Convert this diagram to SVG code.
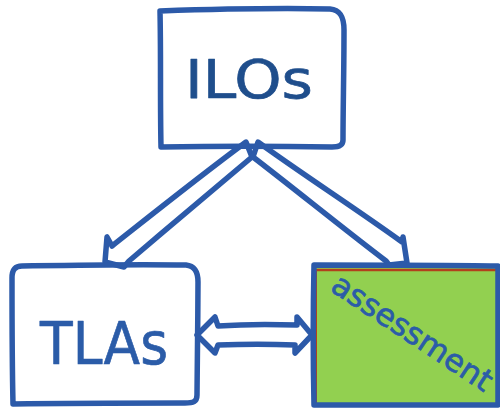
<svg xmlns="http://www.w3.org/2000/svg" width="500" height="409" viewBox="0 0 500 409">
<style>
.ln{fill:none;stroke:#2c5aa9;stroke-width:5.5;stroke-linecap:round;stroke-linejoin:round}
.ar{fill:#ffffff;stroke:#2c5aa9;stroke-width:5.5;stroke-linecap:round;stroke-linejoin:round}
.lbl{font-family:"DejaVu Sans","Noto Sans",sans-serif;fill:#2b5ca8;stroke:#2b5ca8;stroke-width:0.7;stroke-linejoin:round}
</style>
<rect width="500" height="409" fill="#ffffff"/>
<g id="connectors">
<path class="ar" d="M246,142 C200,176 155,212 112,246 L107,237 L105,262 L124,267 L129,261 C170,226 212,191 252,157 Z"/>
<path class="ar" d="M258,142 C305,176 355,208 402,242 L403,237 L407,263 L389,265 L386,261 C340,226 296,190 253,157 Z"/>
<path class="ar" d="M197,335 L215,317 L218,326 C245,324 270,324 297,325 L297,317 L312,335 L295,353 L295,345 C270,344 245,344 218,345 L215,353 Z"/>
</g>
<g id="node-ilos">
<path class="ln" d="M161,147 C160,100 161,55 160,11 C220,9 280,8 330,9 C341,10 344,18 344,30 C344,70 343,110 343,140 C343,146 338,147 332,147 C275,146 215,146 161,147 Z" fill="#ffffff"/>
<text class="lbl" x="249" y="98" font-size="54" text-anchor="middle" textLength="128" lengthAdjust="spacingAndGlyphs" style="fill:#1f4e8c;stroke:#1f4e8c">ILOs</text>
</g>
<g id="node-tlas">
<path class="ln" d="M22,266 C80,265 130,264 186,265 C195,266 198,272 198,282 C198,320 197,360 197,395 C197,402 193,403 185,403 C130,403 70,403 13,404 C12,360 12,320 12,278 C12,270 15,266 22,266 Z" fill="#ffffff"/>
<text class="lbl" x="104" y="364" font-size="58" text-anchor="middle" textLength="128" lengthAdjust="spacingAndGlyphs">TLAs</text>
</g>
<g id="node-assessment">
<rect x="314" y="266" width="186" height="139" fill="#92d050"/>
<path d="M315,270 L498,270" stroke="#b2401c" stroke-width="2.5" fill="none"/>
<path d="M316,404 L316,270" stroke="#b2401c" stroke-width="2" fill="none"/>
<path class="ln" d="M498,266 C440,265 380,265 314,265 C313,310 313,360 314,405 C380,405 440,405 498,405 L498,266"/>
<text class="lbl" x="0" y="0" font-size="31" textLength="186" lengthAdjust="spacingAndGlyphs" transform="translate(329,290) rotate(33.5)">assessment</text>
</g>
</svg>
